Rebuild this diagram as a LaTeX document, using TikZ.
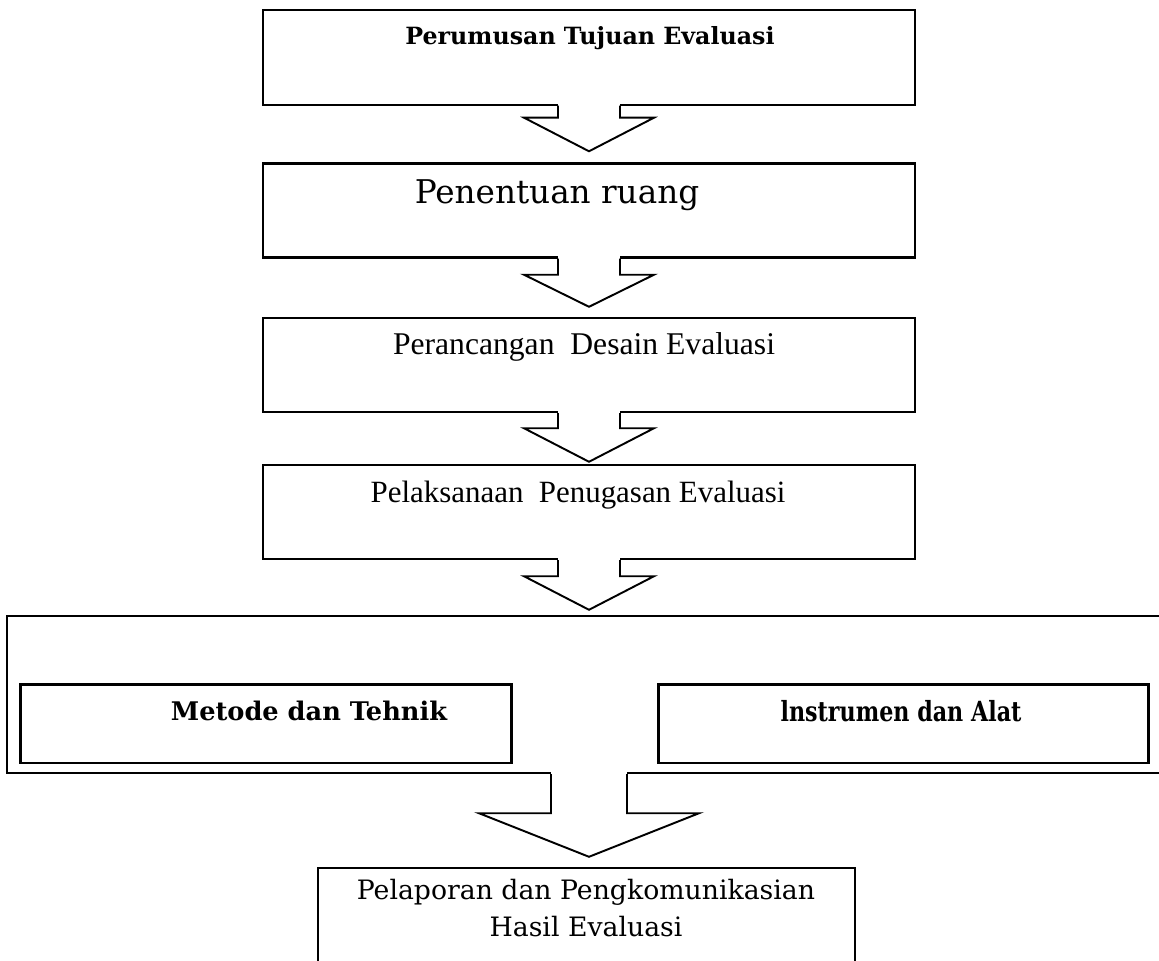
\documentclass[tikz,border=0pt]{standalone}
\usepackage{fontspec}
\usepackage{tikz}
\usetikzlibrary{calc}

\newfontfamily\bookfont{DejaVu Serif}
\newfontfamily\bookcondfont[FakeStretch=0.8]{DejaVu Serif}
\newfontfamily\timesfont{Liberation Serif}

\begin{document}
\begin{tikzpicture}[
  x=0.02cm, y=-0.02cm,
  box/.style={draw, rectangle, line width=1.4pt, inner sep=0pt},
  thin box/.style={box, line width=0.8pt},
  inner box/.style={box, line width=1.7pt},
  label text/.style={inner sep=0pt, align=center},
  arrow line/.style={line width=1.1pt, line join=miter},
]
  \newcommand*{\BoxWidth}{13.04cm}
  \newcommand*{\BoxHeight}{1.88cm}

  % #1 from, #2 to, #3 half shaft, #4 half head, #5 shaft length, #6 gap at tip
  \newcommand*{\BlockArrow}[6]{
    \coordinate (a) at (#1.south);
    \coordinate (tip) at ($(a |- #2.north)+(0,-#6)$);
    \fill[white] ($(a)+(-#3,-3)$) rectangle ($(a)+(#3,#5)$);
    \draw[arrow line]
      ($(a)+(-#3,0)$) -- ($(a)+(-#3,#5)$) -- ($(a)+(-#4,#5)$)
      -- (tip)
      -- ($(a)+(#4,#5)$) -- ($(a)+(#3,#5)$) -- ($(a)+(#3,0)$)
    ;
  }

  \useasboundingbox (0,0) rectangle (1159,960);

  % Boxes of the flow, node names: s1, s2, ...
  \node[thin box, minimum width=\BoxWidth, minimum height=1.9cm] (s1) at (589,57.5) {};
  \foreach \y [count=\i from 2] in {210.5, 365, 512} {
    \node[box, minimum width=\BoxWidth, minimum height=\BoxHeight] (s\i) at (589,\y) {};
  }
  \node[box, minimum width=23.28cm, minimum height=3.14cm] (s5) at (589,694.5) {};
  \node[inner box, minimum width=9.84cm, minimum height=1.58cm] (metode) at (266,723.5) {};
  \node[inner box, minimum width=9.82cm, minimum height=1.58cm] (alat) at (903.5,723.5) {};
  \node[box, minimum width=10.74cm, minimum height=2.4cm] (s6) at (586.5,928) {};

  % Texts
  \node[label text, font=\bookfont\bfseries\fontsize{13.5}{16}\selectfont] (t1) at (590,38)
    {Perumusan Tujuan Evaluasi};
  \node[label text, font=\bookfont\fontsize{18.6}{22}\selectfont] (t2) at (557,195)
    {Penentuan ruang};
  \node[label text, font=\timesfont\fontsize{18}{21}\selectfont] (t3) at (584,347)
    {Perancangan\ \ Desain Evaluasi};
  \node[label text, font=\timesfont\fontsize{17.6}{21}\selectfont] (t4) at (578,495)
    {Pelaksanaan\ \ Penugasan Evaluasi};
  \node[label text, font=\bookfont\bfseries\fontsize{14.6}{17}\selectfont] (t5) at (309,711)
    {Metode dan Tehnik};
  \node[label text, font=\bookcondfont\bfseries\fontsize{15.8}{18}\selectfont] (t6) at (901,711)
    {lnstrumen dan Alat};
  \node[label text, font=\bookfont\fontsize{15.2}{21}\selectfont] (t7) at (586,908)
    {Pelaporan dan Pengkomunikasian\\Hasil Evaluasi};

  % Block arrows between the boxes
  \foreach \from/\to/\len/\gap in {s1/s2/12/11, s2/s3/16/10, s3/s4/15/2, s4/s5/16/5} {
    \BlockArrow{\from}{\to}{31}{65}{\len}{\gap}
  }
  \BlockArrow{s5}{s6}{38}{110}{39}{10}
\end{tikzpicture}
\end{document}
